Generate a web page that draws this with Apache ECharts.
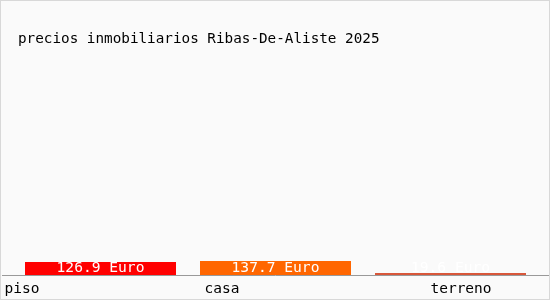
<!DOCTYPE html>
<html>
<head>
<meta charset="utf-8">
<script src="https://cdn.jsdelivr.net/npm/echarts@6/dist/echarts.min.js"></script>
<style>
html,body{margin:0;padding:0;background:#fafafa;}
#c{width:548px;height:298px;border:1px solid #d8d8d8;}
</style>
</head>
<body>
<div id="c"></div>
<script>
const titleText = 'precios inmobiliarios Ribas-De-Aliste 2025';
const categories = ['piso', 'casa', 'terreno'];
const values = [126.9, 137.7, 19.6];
const barColors = ['#ff0000', '#ff6600', '#d8573a'];
const labelShift = [157, 107, -21];

const chart = echarts.init(document.getElementById('c'));
const font = 'DejaVu Sans Mono, monospace';
chart.setOption({
  backgroundColor: '#fafafa',
  animation: false,
  title: {
    text: titleText, left: 12, top: 26,
    textStyle: {fontFamily: font, fontSize: 14.3, fontWeight: 'normal', color: '#000'}
  },
  grid: {left: 12, right: 11, top: 74, bottom: 24},
  xAxis: {
    type: 'category', data: categories,
    axisLine: {show: false}, axisTick: {show: false},
    axisLabel: {
      margin: 7, fontFamily: font, fontSize: 14.5, color: '#000',
      formatter: function (v, i) { return '{l' + i + '|' + v + '}'; },
      rich: {
        l0: {fontFamily: font, fontSize: 14.5, color: '#000', padding: [0, labelShift[0], 0, 0]},
        l1: {fontFamily: font, fontSize: 14.5, color: '#000', padding: [0, labelShift[1], 0, 0]},
        l2: {fontFamily: font, fontSize: 14.5, color: '#000', padding: [0, 0, 0, -labelShift[2]]}
      }
    }
  },
  yAxis: {type: 'value', min: 0, max: 1950, show: false, splitLine: {show: false}},
  graphic: [{
    type: 'line', shape: {x1: 1, y1: 274.5, x2: 548, y2: 274.5},
    style: {stroke: '#999', lineWidth: 1}, z: 10
  }],
  series: [{
    type: 'bar', barWidth: 151,
    data: values.map((v, i) => ({value: v, itemStyle: {color: barColors[i]}})),
    label: {
      show: true, position: 'insideBottom', distance: -1,
      formatter: p => p.value + ' Euro',
      fontFamily: font, fontSize: 14.6, color: '#fff'
    }
  }]
});
</script>
</body>
</html>
